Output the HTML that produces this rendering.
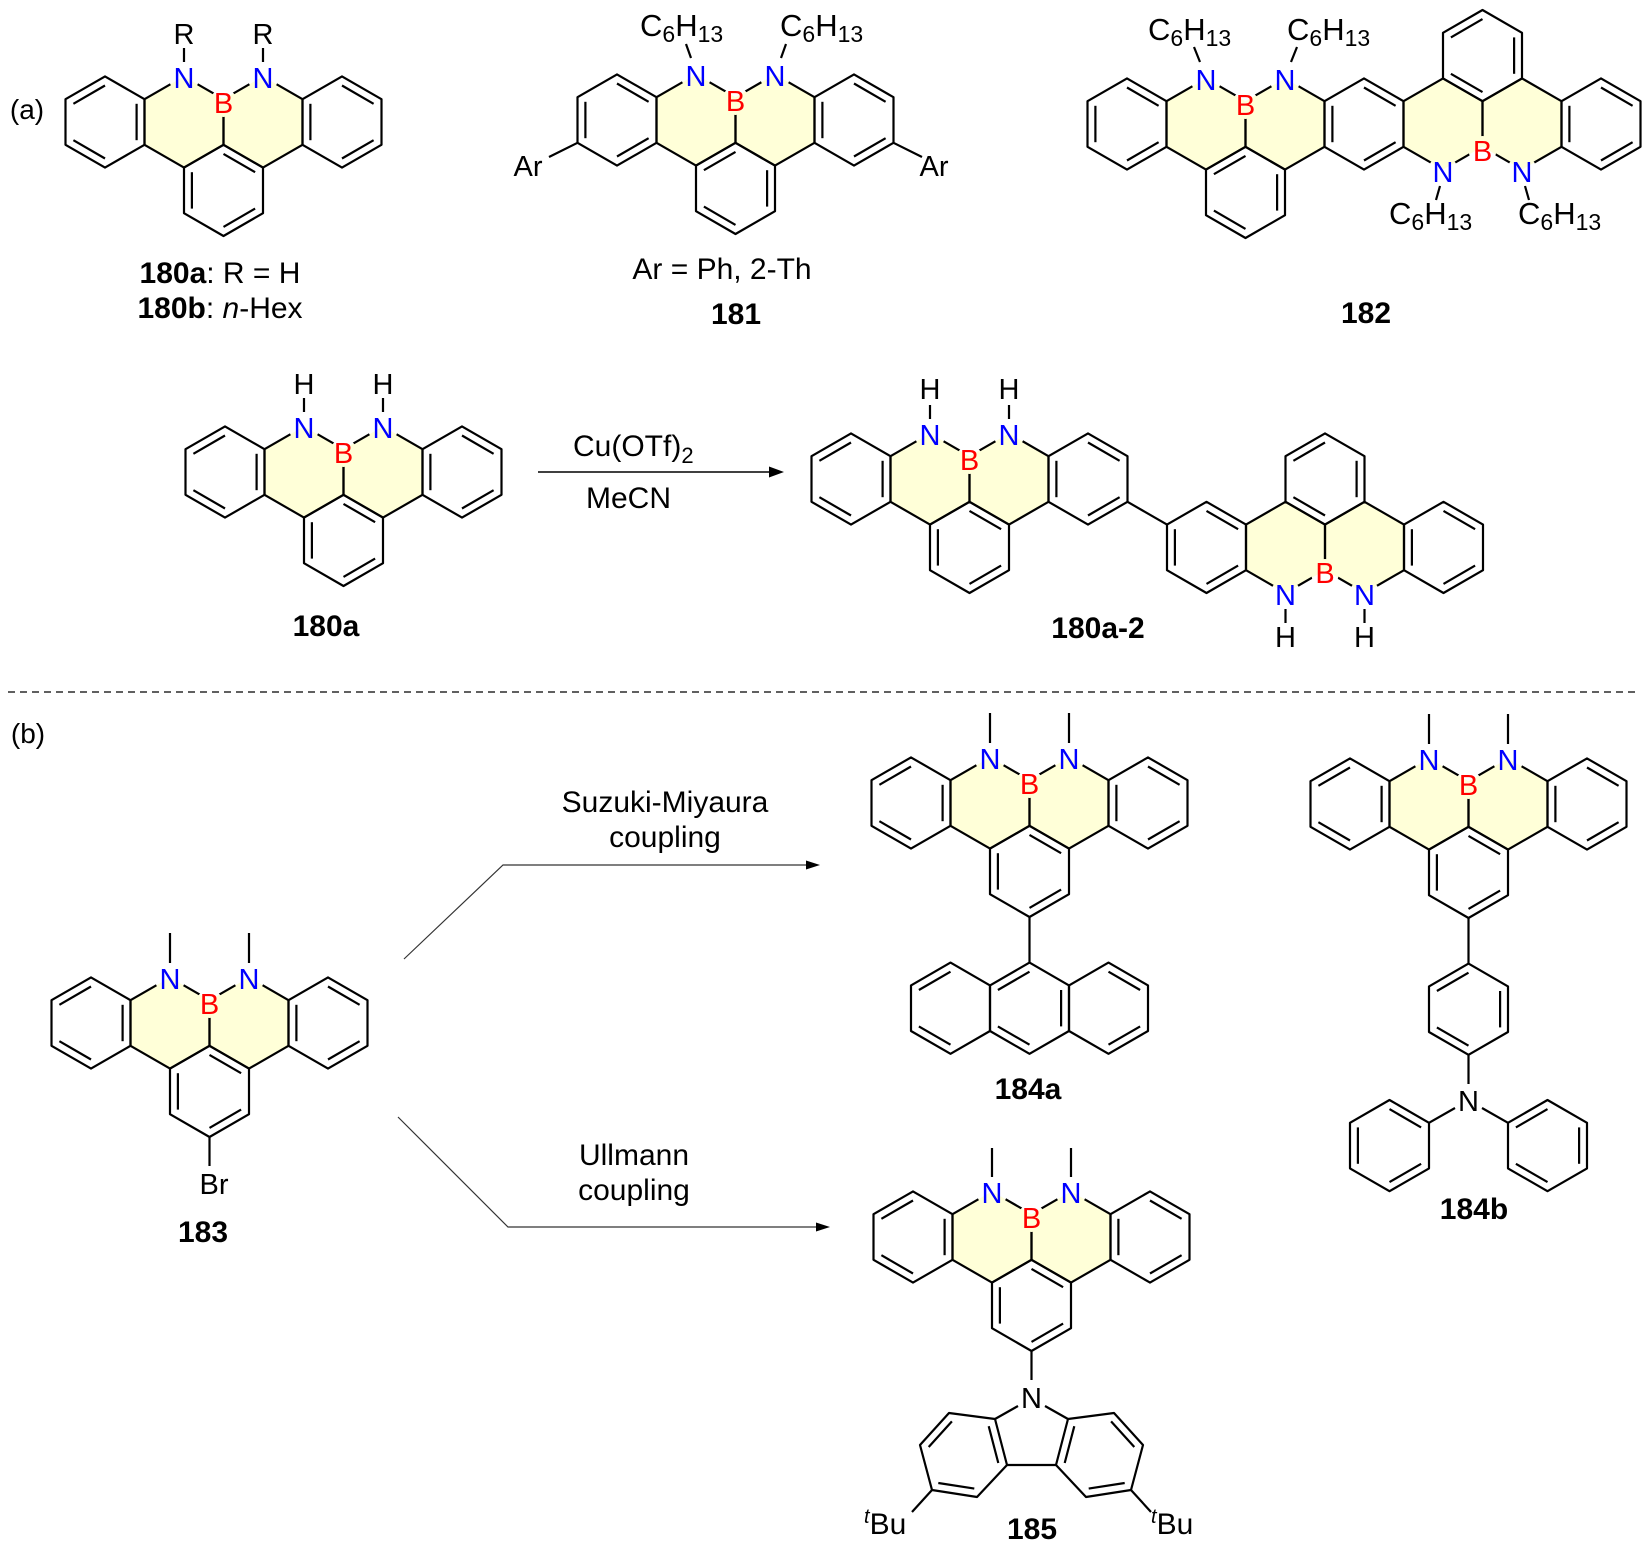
<!DOCTYPE html>
<html><head><meta charset="utf-8"><style>
html,body{margin:0;padding:0;background:#fff;}
svg{display:block;}
text{font-family:"Liberation Sans",Arial,sans-serif;}
</style></head><body>
<svg width="1644" height="1559" viewBox="0 0 1644 1559" xmlns="http://www.w3.org/2000/svg">
<defs>
<path id="hx" d="M0,-45.6L39.5,-22.8L39.5,22.8L0,45.6L-39.5,22.8L-39.5,-22.8Z"/>
<path id="d0" d="M0,-36.5L31.6,-18.2"/>
<path id="d1" d="M31.6,-18.2L31.6,18.2"/>
<path id="d2" d="M31.6,18.2L0,36.5"/>
<path id="d3" d="M0,36.5L-31.6,18.2"/>
<path id="d4" d="M-31.6,18.2L-31.6,-18.2"/>
<path id="d5" d="M-31.6,-18.2L0,-36.5"/>
</defs>
<rect width="1644" height="1559" fill="#fff"/>

<g fill="none" stroke="#000" stroke-width="2.2" stroke-linejoin="round">
<use href="#hx" x="105" y="122"/><use href="#d5" x="105" y="122"/><use href="#d1" x="105" y="122"/><use href="#d3" x="105" y="122"/>
<use href="#hx" x="184" y="122"/><use href="#hx" x="263" y="122"/>
<use href="#hx" x="342" y="122"/><use href="#d4" x="342" y="122"/><use href="#d0" x="342" y="122"/><use href="#d2" x="342" y="122"/>
<use href="#hx" x="223.5" y="190.4"/><use href="#d4" x="223.5" y="190.4"/><use href="#d0" x="223.5" y="190.4"/><use href="#d2" x="223.5" y="190.4"/>
<path d="M184,62V48M263,62V48"/>

<use href="#hx" x="617" y="120"/><use href="#d4" x="617" y="120"/><use href="#d0" x="617" y="120"/><use href="#d2" x="617" y="120"/>
<use href="#hx" x="696" y="120"/><use href="#hx" x="775" y="120"/>
<use href="#hx" x="854" y="120"/><use href="#d4" x="854" y="120"/><use href="#d0" x="854" y="120"/><use href="#d2" x="854" y="120"/>
<use href="#hx" x="735.5" y="188.4"/><use href="#d5" x="735.5" y="188.4"/><use href="#d1" x="735.5" y="188.4"/><use href="#d3" x="735.5" y="188.4"/>
<path d="M577.5,142.8L549,157M893.5,142.8L922,157M691,58L686,44M781,58L786,44"/>

<use href="#hx" x="1127" y="124"/><use href="#d4" x="1127" y="124"/><use href="#d0" x="1127" y="124"/><use href="#d2" x="1127" y="124"/>
<use href="#hx" x="1206" y="124"/><use href="#hx" x="1285" y="124"/>
<use href="#hx" x="1364" y="124"/><use href="#d4" x="1364" y="124"/><use href="#d0" x="1364" y="124"/><use href="#d2" x="1364" y="124"/>
<use href="#hx" x="1443" y="124"/><use href="#hx" x="1522" y="124"/>
<use href="#hx" x="1601" y="124"/><use href="#d4" x="1601" y="124"/><use href="#d0" x="1601" y="124"/><use href="#d2" x="1601" y="124"/>
<use href="#hx" x="1245.5" y="192.4"/><use href="#d5" x="1245.5" y="192.4"/><use href="#d1" x="1245.5" y="192.4"/><use href="#d3" x="1245.5" y="192.4"/>
<use href="#hx" x="1482.5" y="55.6"/><use href="#d5" x="1482.5" y="55.6"/><use href="#d1" x="1482.5" y="55.6"/><use href="#d3" x="1482.5" y="55.6"/>
<path d="M1200,62L1194,47M1291,62L1297,47M1440,186L1436,200M1525,186L1529,200"/>

<use href="#hx" x="225" y="472"/><use href="#d5" x="225" y="472"/><use href="#d1" x="225" y="472"/><use href="#d3" x="225" y="472"/>
<use href="#hx" x="304" y="472"/><use href="#hx" x="383" y="472"/>
<use href="#hx" x="462" y="472"/><use href="#d4" x="462" y="472"/><use href="#d0" x="462" y="472"/><use href="#d2" x="462" y="472"/>
<use href="#hx" x="343.5" y="540.4"/><use href="#d4" x="343.5" y="540.4"/><use href="#d0" x="343.5" y="540.4"/><use href="#d2" x="343.5" y="540.4"/>
<path d="M304,412V398M383,412V398"/>

<use href="#hx" x="851" y="479"/><use href="#d5" x="851" y="479"/><use href="#d1" x="851" y="479"/><use href="#d3" x="851" y="479"/>
<use href="#hx" x="930" y="479"/><use href="#hx" x="1009" y="479"/>
<use href="#hx" x="1088" y="479"/><use href="#d4" x="1088" y="479"/><use href="#d0" x="1088" y="479"/><use href="#d2" x="1088" y="479"/>
<use href="#hx" x="969.5" y="547.4"/><use href="#d4" x="969.5" y="547.4"/><use href="#d0" x="969.5" y="547.4"/><use href="#d2" x="969.5" y="547.4"/>
<path d="M1127.5,501.8L1167,524.6"/>
<use href="#hx" x="1206.5" y="547.4"/><use href="#d4" x="1206.5" y="547.4"/><use href="#d0" x="1206.5" y="547.4"/><use href="#d2" x="1206.5" y="547.4"/>
<use href="#hx" x="1285.5" y="547.4"/><use href="#hx" x="1364.5" y="547.4"/>
<use href="#hx" x="1443.5" y="547.4"/><use href="#d4" x="1443.5" y="547.4"/><use href="#d0" x="1443.5" y="547.4"/><use href="#d2" x="1443.5" y="547.4"/>
<use href="#hx" x="1325" y="479"/><use href="#d5" x="1325" y="479"/><use href="#d1" x="1325" y="479"/><use href="#d3" x="1325" y="479"/>
<path d="M930,419V405M1009,419V405M1285.5,609V623M1364.5,609V623"/>

<use href="#hx" x="91" y="1023"/><use href="#d5" x="91" y="1023"/><use href="#d1" x="91" y="1023"/><use href="#d3" x="91" y="1023"/>
<use href="#hx" x="170" y="1023"/><use href="#hx" x="249" y="1023"/>
<use href="#hx" x="328" y="1023"/><use href="#d4" x="328" y="1023"/><use href="#d0" x="328" y="1023"/><use href="#d2" x="328" y="1023"/>
<use href="#hx" x="209.5" y="1091.4"/><use href="#d4" x="209.5" y="1091.4"/><use href="#d0" x="209.5" y="1091.4"/><use href="#d2" x="209.5" y="1091.4"/>
<path d="M170,963V933M249,963V933M209.5,1137V1166"/>

<use href="#hx" x="911" y="803"/><use href="#d5" x="911" y="803"/><use href="#d1" x="911" y="803"/><use href="#d3" x="911" y="803"/>
<use href="#hx" x="990" y="803"/><use href="#hx" x="1069" y="803"/>
<use href="#hx" x="1148" y="803"/><use href="#d4" x="1148" y="803"/><use href="#d0" x="1148" y="803"/><use href="#d2" x="1148" y="803"/>
<use href="#hx" x="1029.5" y="871.4"/><use href="#d4" x="1029.5" y="871.4"/><use href="#d0" x="1029.5" y="871.4"/><use href="#d2" x="1029.5" y="871.4"/>
<path d="M990,743V713M1069,743V713M1029.5,917V962.6"/>
<use href="#hx" x="950.5" y="1008.2"/><use href="#d5" x="950.5" y="1008.2"/><use href="#d3" x="950.5" y="1008.2"/>
<use href="#hx" x="1029.5" y="1008.2"/><use href="#d5" x="1029.5" y="1008.2"/><use href="#d1" x="1029.5" y="1008.2"/><use href="#d3" x="1029.5" y="1008.2"/>
<use href="#hx" x="1108.5" y="1008.2"/><use href="#d0" x="1108.5" y="1008.2"/><use href="#d2" x="1108.5" y="1008.2"/>

<use href="#hx" x="1350" y="804"/><use href="#d5" x="1350" y="804"/><use href="#d1" x="1350" y="804"/><use href="#d3" x="1350" y="804"/>
<use href="#hx" x="1429" y="804"/><use href="#hx" x="1508" y="804"/>
<use href="#hx" x="1587" y="804"/><use href="#d4" x="1587" y="804"/><use href="#d0" x="1587" y="804"/><use href="#d2" x="1587" y="804"/>
<use href="#hx" x="1468.5" y="872.4"/><use href="#d4" x="1468.5" y="872.4"/><use href="#d0" x="1468.5" y="872.4"/><use href="#d2" x="1468.5" y="872.4"/>
<path d="M1429,744V714M1508,744V714M1468.5,918V963.6M1468.5,1054.8V1084M1455,1108L1429,1122.8M1482,1108L1508,1122.8"/>
<use href="#hx" x="1468.5" y="1009.2"/><use href="#d5" x="1468.5" y="1009.2"/><use href="#d1" x="1468.5" y="1009.2"/><use href="#d3" x="1468.5" y="1009.2"/>
<use href="#hx" x="1389.5" y="1145.6"/><use href="#d0" x="1389.5" y="1145.6"/><use href="#d4" x="1389.5" y="1145.6"/><use href="#d2" x="1389.5" y="1145.6"/>
<use href="#hx" x="1547.5" y="1145.6"/><use href="#d5" x="1547.5" y="1145.6"/><use href="#d1" x="1547.5" y="1145.6"/><use href="#d3" x="1547.5" y="1145.6"/>

<use href="#hx" x="913" y="1237"/><use href="#d5" x="913" y="1237"/><use href="#d1" x="913" y="1237"/><use href="#d3" x="913" y="1237"/>
<use href="#hx" x="992" y="1237"/><use href="#hx" x="1071" y="1237"/>
<use href="#hx" x="1150" y="1237"/><use href="#d4" x="1150" y="1237"/><use href="#d0" x="1150" y="1237"/><use href="#d2" x="1150" y="1237"/>
<use href="#hx" x="1031.5" y="1305.4"/><use href="#d4" x="1031.5" y="1305.4"/><use href="#d0" x="1031.5" y="1305.4"/><use href="#d2" x="1031.5" y="1305.4"/>
<path d="M992,1177V1148M1071,1177V1148M1031.5,1351V1380"/>
<path d="M995,1419L949,1413L920,1445L932,1490L977,1497L1007,1465Z"/>
<path d="M1068,1419L1114,1413L1143,1445L1131,1490L1086,1497L1056,1465Z"/>
<path d="M1018,1406L995,1419M1045,1406L1068,1419M1007,1465L1056,1465"/>
<path d="M951.9,1421.4L928.7,1447M938.3,1483L974.3,1488.6M988.7,1426.2L998.3,1463M1111.1,1421.4L1134.3,1447M1124.7,1483L1088.7,1488.6M1074.3,1426.2L1064.7,1463"/>
<path d="M932,1490L912,1512M1131,1490L1151,1512"/>

<path d="M538,472H772" stroke-width="1.6"/>
</g>
<polygon points="784,472 769,466.5 769,477.5" fill="#000"/>

<g fill="none" stroke="#333" stroke-width="1.2">
<path d="M404,959L503,865H808"/>
<path d="M398,1117L508,1227H818"/>
</g>
<polygon points="820,865 806,860.5 806,869.5" fill="#000"/>
<polygon points="830,1227 816,1222.5 816,1231.5" fill="#000"/>

<path d="M8,692H1636" stroke="#000" stroke-width="1.3" stroke-dasharray="7,5"/>

<g fill="#fff">
<circle cx="184" cy="78" r="15"/><circle cx="263" cy="78" r="15"/><circle cx="223.5" cy="103" r="14"/>
<circle cx="696" cy="76" r="15"/><circle cx="775" cy="76" r="15"/><circle cx="735.5" cy="101" r="14"/>
<circle cx="1206" cy="80" r="15"/><circle cx="1285" cy="80" r="15"/><circle cx="1245.5" cy="105" r="14"/>
<circle cx="1443" cy="171" r="15"/><circle cx="1522" cy="171" r="15"/><circle cx="1482.5" cy="150" r="14"/>
<circle cx="304" cy="428" r="15"/><circle cx="383" cy="428" r="15"/><circle cx="343.5" cy="453" r="14"/>
<circle cx="930" cy="435" r="15"/><circle cx="1009" cy="435" r="15"/><circle cx="969.5" cy="460" r="14"/>
<circle cx="1285.5" cy="594" r="15"/><circle cx="1364.5" cy="594" r="15"/><circle cx="1325" cy="573" r="14"/>
<circle cx="170" cy="979" r="15"/><circle cx="249" cy="979" r="15"/><circle cx="209.5" cy="1004" r="14"/>
<circle cx="990" cy="759" r="15"/><circle cx="1069" cy="759" r="15"/><circle cx="1029.5" cy="784" r="14"/>
<circle cx="1429" cy="760" r="15"/><circle cx="1508" cy="760" r="15"/><circle cx="1468.5" cy="785" r="14"/>
<circle cx="992" cy="1193" r="15"/><circle cx="1071" cy="1193" r="15"/><circle cx="1031.5" cy="1218" r="14"/>
</g>

<g fill="#ffffd8" stroke="none" style="mix-blend-mode:multiply">
<use href="#hx" x="184" y="122"/><use href="#hx" x="263" y="122"/>
<use href="#hx" x="696" y="120"/><use href="#hx" x="775" y="120"/>
<use href="#hx" x="1206" y="124"/><use href="#hx" x="1285" y="124"/>
<use href="#hx" x="1443" y="124"/><use href="#hx" x="1522" y="124"/>
<use href="#hx" x="304" y="472"/><use href="#hx" x="383" y="472"/>
<use href="#hx" x="930" y="479"/><use href="#hx" x="1009" y="479"/>
<use href="#hx" x="1285.5" y="547.4"/><use href="#hx" x="1364.5" y="547.4"/>
<use href="#hx" x="170" y="1023"/><use href="#hx" x="249" y="1023"/>
<use href="#hx" x="990" y="803"/><use href="#hx" x="1069" y="803"/>
<use href="#hx" x="1429" y="804"/><use href="#hx" x="1508" y="804"/>
<use href="#hx" x="992" y="1237"/><use href="#hx" x="1071" y="1237"/>
</g>

<g font-size="29" text-anchor="middle">
<g fill="#0000ff">
<text x="184" y="88">N</text><text x="263" y="88">N</text>
<text x="696" y="86">N</text><text x="775" y="86">N</text>
<text x="1206" y="90">N</text><text x="1285" y="90">N</text>
<text x="1443" y="182">N</text><text x="1522" y="182">N</text>
<text x="304" y="438">N</text><text x="383" y="438">N</text>
<text x="930" y="445">N</text><text x="1009" y="445">N</text>
<text x="1285.5" y="605">N</text><text x="1364.5" y="605">N</text>
<text x="170" y="989">N</text><text x="249" y="989">N</text>
<text x="990" y="769">N</text><text x="1069" y="769">N</text>
<text x="1429" y="770">N</text><text x="1508" y="770">N</text>
<text x="992" y="1203">N</text><text x="1071" y="1203">N</text>
</g>
<g fill="#ff0000">
<text x="223.5" y="113">B</text>
<text x="735.5" y="111">B</text>
<text x="1245.5" y="115">B</text>
<text x="1482.5" y="161">B</text>
<text x="343.5" y="463">B</text>
<text x="969.5" y="470">B</text>
<text x="1325" y="583">B</text>
<text x="209.5" y="1014">B</text>
<text x="1029.5" y="794">B</text>
<text x="1468.5" y="795">B</text>
<text x="1031.5" y="1228">B</text>
</g>
<g fill="#000">
<text x="184" y="44">R</text><text x="263" y="44">R</text>
<text x="304" y="394">H</text><text x="383" y="394">H</text>
<text x="930" y="399">H</text><text x="1009" y="399">H</text>
<text x="1285.5" y="647">H</text><text x="1364.5" y="647">H</text>
<text x="528" y="176">Ar</text><text x="934" y="176">Ar</text>
<text x="214" y="1194">Br</text>
<text x="1468.5" y="1111">N</text>
<text x="1031.5" y="1408">N</text>
</g>
</g>

<g fill="#000" font-size="31">
<text x="640" y="36">C<tspan font-size="23" dy="6">6</tspan><tspan dy="-6">H</tspan><tspan font-size="23" dy="6">13</tspan></text>
<text x="780" y="36">C<tspan font-size="23" dy="6">6</tspan><tspan dy="-6">H</tspan><tspan font-size="23" dy="6">13</tspan></text>
<text x="1148" y="40">C<tspan font-size="23" dy="6">6</tspan><tspan dy="-6">H</tspan><tspan font-size="23" dy="6">13</tspan></text>
<text x="1287" y="40">C<tspan font-size="23" dy="6">6</tspan><tspan dy="-6">H</tspan><tspan font-size="23" dy="6">13</tspan></text>
<text x="1389" y="224">C<tspan font-size="23" dy="6">6</tspan><tspan dy="-6">H</tspan><tspan font-size="23" dy="6">13</tspan></text>
<text x="1518" y="224">C<tspan font-size="23" dy="6">6</tspan><tspan dy="-6">H</tspan><tspan font-size="23" dy="6">13</tspan></text>
<text x="573" y="456" font-size="30">Cu(OTf)<tspan font-size="22" dy="7">2</tspan></text>
<text x="586" y="508" font-size="30">MeCN</text>
<text x="864" y="1534" font-size="30"><tspan font-style="italic" font-size="20" dy="-11">t</tspan><tspan dy="11">Bu</tspan></text>
<text x="1151" y="1534" font-size="30"><tspan font-style="italic" font-size="20" dy="-11">t</tspan><tspan dy="11">Bu</tspan></text>
</g>

<g fill="#000" font-size="30" text-anchor="middle">
<text x="27" y="119" font-size="28">(a)</text>
<text x="28" y="743" font-size="28">(b)</text>
<text x="220" y="283"><tspan font-weight="bold">180a</tspan>: R = H</text>
<text x="220" y="318"><tspan font-weight="bold">180b</tspan>: <tspan font-style="italic">n</tspan>-Hex</text>
<text x="722" y="279">Ar = Ph, 2-Th</text>
<text x="736" y="324" font-weight="bold">181</text>
<text x="1366" y="323" font-weight="bold">182</text>
<text x="326" y="636" font-weight="bold">180a</text>
<text x="1098" y="638" font-weight="bold">180a-2</text>
<text x="665" y="812">Suzuki-Miyaura</text>
<text x="665" y="847">coupling</text>
<text x="634" y="1165">Ullmann</text>
<text x="634" y="1200">coupling</text>
<text x="203" y="1242" font-weight="bold">183</text>
<text x="1028" y="1099" font-weight="bold">184a</text>
<text x="1474" y="1219" font-weight="bold">184b</text>
<text x="1032" y="1539" font-weight="bold">185</text>
</g>
</svg>
</body></html>
